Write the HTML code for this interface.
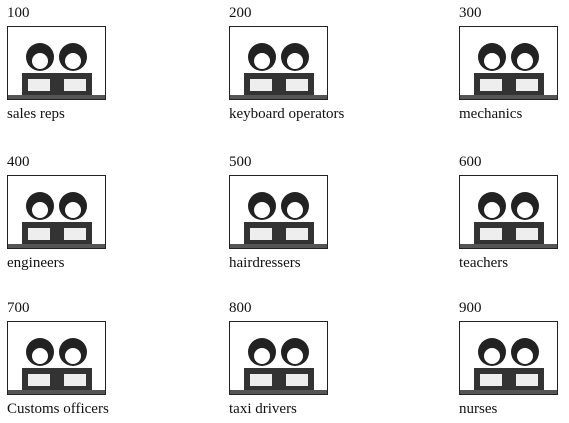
<!DOCTYPE html>
<html><head><meta charset="utf-8"><style>
body{margin:0;width:569px;height:423px;background:#fff;position:relative;overflow:hidden;font-family:"Liberation Serif",serif;color:#111}
.n,.l{position:absolute;font-size:15px;line-height:15px;white-space:nowrap}
.b{position:absolute;width:99px;height:74px;border:1.5px solid #222;box-sizing:border-box;overflow:hidden}
</style></head><body>
<div id="root"></div>
<script>
const nums=["100","200","300","400","500","600","700","800","900"];
const labels=["sales reps","keyboard operators","mechanics","engineers","hairdressers","teachers","Customs officers","taxi drivers","nurses"];
const colX=[7,229,459];
const rowY=[6,155,301];
const root=document.getElementById('root');
function fig(){
  return `<svg width="99" height="74" viewBox="0 0 99 74">
  <circle cx="32" cy="30" r="14" fill="#222"/><circle cx="32" cy="34" r="8" fill="#fff"/>
  <circle cx="65" cy="30" r="14" fill="#222"/><circle cx="65" cy="34" r="8" fill="#fff"/>
  <rect x="14" y="46" width="36" height="22" fill="#333"/><rect x="48" y="46" width="36" height="22" fill="#333"/>
  <rect x="20" y="52" width="22" height="12" fill="#eee"/><rect x="56" y="52" width="22" height="12" fill="#eee"/>
  <rect x="0" y="68" width="99" height="6" fill="#555"/></svg>`;
}
for(let i=0;i<9;i++){
  const x=colX[i%3],y=rowY[Math.floor(i/3)];
  const n=document.createElement('div');n.className='n';n.style.left=x+'px';n.style.top=y+'px';n.textContent=nums[i];
  
  
  const b=document.createElement('div');b.className='b';b.style.left=x+'px';b.style.top=(y+20)+'px';b.innerHTML=fig();
  
  
  const l=document.createElement('div');l.className='l';l.style.left=x+'px';l.style.top=(y+101)+'px';l.textContent=labels[i];
  
  
  root.append(n,b,l);
}
</script>
</body></html>
